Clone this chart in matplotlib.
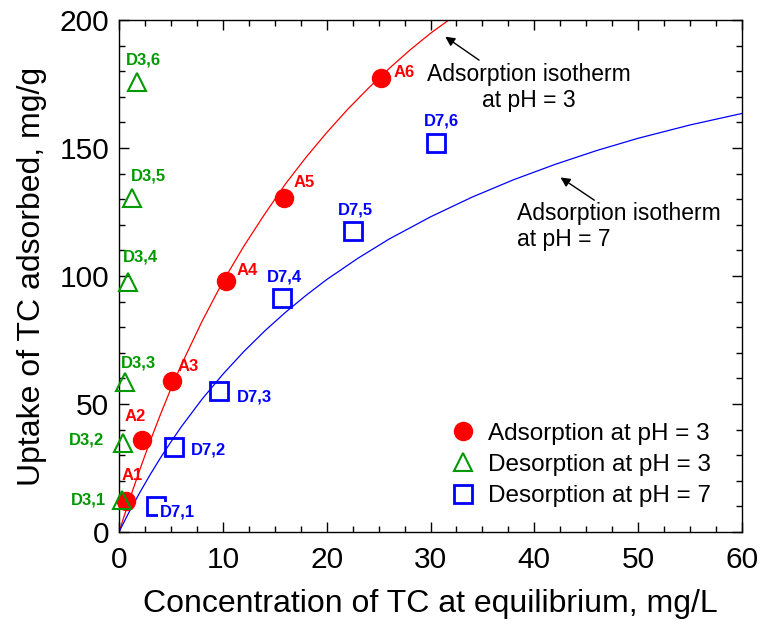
import matplotlib
matplotlib.use("Agg")
import matplotlib.pyplot as plt
from matplotlib.ticker import MultipleLocator

plt.rcParams['font.family'] = ['Liberation Sans', 'DejaVu Sans']

# ---- data ----
ads3_x = [0.65, 2.2, 5.15, 10.35, 15.9, 25.25]
ads3_y = [12.2, 35.8, 58.9, 97.9, 130.6, 177.4]
ads3_lbl = ["A1", "A2", "A3", "A4", "A5", "A6"]

des3_x = [0.3, 0.42, 0.58, 0.84, 1.28, 1.77]
des3_y = [12.5, 34.9, 58.7, 97.5, 130.3, 175.9]
des3_lbl = ["D3,1", "D3,2", "D3,3", "D3,4", "D3,5", "D3,6"]

des7_x = [3.6, 5.3, 9.6, 15.7, 22.5, 30.5]
des7_y = [10.2, 33.3, 55.1, 91.3, 117.4, 151.8]
des7_lbl = ["D7,1", "D7,2", "D7,3", "D7,4", "D7,5", "D7,6"]

# isotherm curves
iso3_x = [0, 1, 2, 3, 4, 5, 6, 8, 10, 12, 14, 16, 18, 20, 22, 24, 26, 28, 30, 32.1]
iso3_y = [0, 12.5, 24.3, 35.5, 46.0, 56.0, 65.3, 82.3, 97.8, 111.5, 124.0, 135.8, 146.3,
          156.0, 165.0, 173.3, 181.0, 188.2, 194.8, 201.0]
iso7_x = [0, 1, 2, 3, 4, 5, 6, 8, 10, 12, 14, 16, 18, 20, 23, 26, 30, 34, 38, 42, 46, 50, 55, 60]
iso7_y = [0, 8.0, 15.4, 22.4, 29.0, 35.2, 41.1, 51.9, 61.6, 70.4, 78.4, 85.7, 92.4, 98.6,
          106.9, 114.4, 123.1, 130.8, 137.6, 143.6, 149.0, 153.8, 159.0, 163.5]

# label positions (text centres)
ads3_lx = [1.3, 1.55, 6.7, 12.3, 17.8, 27.5]
ads3_ly = [21.9, 45.0, 64.6, 102.3, 136.5, 179.6]
des3_lx = [-2.9, -3.1, 1.86, 2.1, 2.83, 2.38]
des3_ly = [12.5, 35.9, 66.1, 107.4, 139.2, 184.4]
des7_lx = [5.65, 8.6, 13.0, 15.9, 22.8, 31.1]
des7_ly = [7.9, 32.0, 52.9, 99.7, 125.7, 160.7]

RED = '#ff0000'
GREEN = '#009900'
BLUE = '#0000ff'

fig = plt.figure(figsize=(7.61, 6.25), dpi=100)
ax = fig.add_axes([119/761, 1-532/625, 623/761, 512/625])

ax.plot(iso3_x, iso3_y, color=RED, lw=0.9, zorder=2)
ax.plot(iso7_x, iso7_y, color=BLUE, lw=0.9, zorder=2)

ax.plot(ads3_x, ads3_y, 'o', color=RED, ms=13, mec=RED, zorder=4,
        label='Adsorption at pH = 3', clip_on=False)
ax.plot(des3_x, des3_y, '^', color=GREEN, ms=13, mfc='none', mew=1.5, zorder=5,
        label='Desorption at pH = 3', clip_on=False)
ax.plot(des7_x, des7_y, 's', color=BLUE, ms=13, mfc='none', mew=2.0, zorder=4,
        label='Desorption at pH = 7', clip_on=False)

for lx, ly, t in zip(ads3_lx, ads3_ly, ads3_lbl):
    ax.text(lx, ly, t, color=RED, fontsize=12, fontweight='bold', ha='center', va='center')
for lx, ly, t in zip(des3_lx, des3_ly, des3_lbl):
    ax.text(lx, ly, t, color=GREEN, fontsize=12, fontweight='bold', ha='center', va='center')
for i, (lx, ly, t) in enumerate(zip(des7_lx, des7_ly, des7_lbl)):
    kw = {}
    if i == 0:
        kw = dict(bbox=dict(fc='white', ec='none', pad=1.5), zorder=6)
    ax.text(lx, ly, t, color=BLUE, fontsize=12, fontweight='bold', ha='center', va='center', **kw)

# isotherm annotations
ax.text(39.5, 173.5, "Adsorption isotherm\nat pH = 3", fontsize=16.5, ha='center', va='center',
        multialignment='center', linespacing=1.15)
ax.annotate("", xy=(31.2, 194.1), xytext=(34.9, 183.7),
            arrowprops=dict(arrowstyle='-|>', color='black', lw=1.0, mutation_scale=14))
ax.text(38.3, 119.3, "Adsorption isotherm\nat pH = 7", fontsize=16.5, ha='left', va='center',
        multialignment='left', linespacing=1.15)
ax.annotate("", xy=(42.3, 139.1), xytext=(46.0, 129.0),
            arrowprops=dict(arrowstyle='-|>', color='black', lw=1.0, mutation_scale=14))

ax.set_xlim(0, 60)
ax.set_ylim(0, 200)
ax.xaxis.set_major_locator(MultipleLocator(10))
ax.xaxis.set_minor_locator(MultipleLocator(2.5))
ax.yaxis.set_major_locator(MultipleLocator(50))
ax.yaxis.set_minor_locator(MultipleLocator(10))
ax.tick_params(which='both', direction='in', top=True, right=True, width=1.0)
ax.tick_params(which='major', length=7, labelsize=21.5)
ax.tick_params(which='minor', length=4.5)
ax.tick_params(axis='x', which='major', pad=10)
ax.tick_params(axis='y', which='major', pad=7)
for s in ax.spines.values():
    s.set_linewidth(1.0)

ax.set_xlabel("Concentration of TC at equilibrium, mg/L", fontsize=23, labelpad=11)
ax.set_ylabel("Uptake of TC adsorbed, mg/g", fontsize=23, labelpad=9)

leg = ax.legend(loc='center left', bbox_to_anchor=((450-119)/623, (532-465)/512),
                frameon=False, fontsize=17.5, handlelength=1.05, handletextpad=0.5,
                borderpad=0, borderaxespad=0, labelspacing=0.38, markerscale=1.0)

fig.savefig("out.png", dpi=100)
